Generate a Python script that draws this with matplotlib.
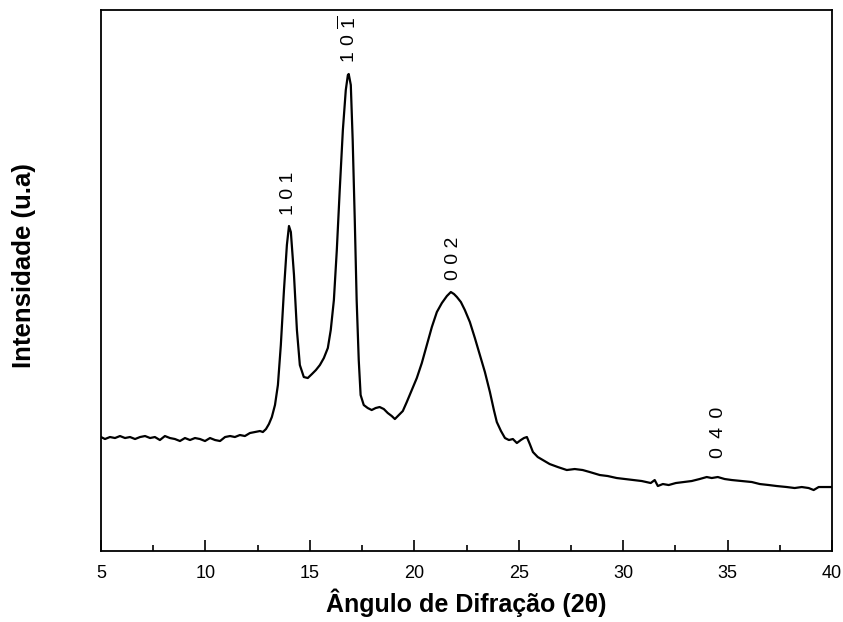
import matplotlib
matplotlib.use("Agg")
import matplotlib.pyplot as plt
import numpy as np

plt.rcParams['font.family'] = ['Liberation Sans', 'DejaVu Sans']
plt.rcParams['mathtext.fontset'] = 'custom'
plt.rcParams['mathtext.rm'] = 'Liberation Sans'

# XRD pattern: 2theta (deg) and intensity (arbitrary units)
two_theta = [5.00, 5.19, 5.43, 5.67, 5.91, 6.15, 6.39, 6.63, 6.87, 7.11,
             7.35, 7.58, 7.82, 8.06, 8.30, 8.54, 8.78, 9.02, 9.26, 9.50,
             9.74, 9.98, 10.22, 10.46, 10.70, 10.94, 11.18, 11.41, 11.65, 11.89,
             12.13, 12.37, 12.61, 12.75, 12.90, 13.04, 13.18, 13.33, 13.47, 13.61,
             13.76, 13.90, 14.00, 14.09, 14.24, 14.38, 14.52, 14.71, 14.90, 15.10,
             15.29, 15.48, 15.67, 15.86, 16.00, 16.15, 16.29, 16.43, 16.58, 16.72,
             16.82, 16.86, 16.96, 17.05, 17.15, 17.24, 17.34, 17.43, 17.58, 17.77,
             17.96, 18.15, 18.34, 18.54, 18.73, 18.92, 19.07, 19.26, 19.45, 19.64,
             19.88, 20.12, 20.36, 20.60, 20.84, 21.08, 21.32, 21.56, 21.75, 21.90,
             22.04, 22.23, 22.42, 22.66, 22.90, 23.14, 23.38, 23.62, 23.81, 23.95,
             24.15, 24.34, 24.53, 24.72, 24.91, 25.10, 25.25, 25.39, 25.53, 25.68,
             25.91, 26.15, 26.48, 26.87, 27.30, 27.68, 28.06, 28.40, 28.88, 29.26,
             29.69, 30.08, 30.46, 30.89, 31.32, 31.51, 31.66, 31.90, 32.18, 32.52,
             32.90, 33.28, 33.66, 34.00, 34.24, 34.53, 34.86, 35.20, 35.68, 36.16,
             36.54, 36.97, 37.35, 37.83, 38.21, 38.55, 38.88, 39.12, 39.36, 39.70,
             40.00]
intensity = [114, 112, 114, 113, 115, 113, 114, 112, 114, 115,
             113, 114, 111, 115, 113, 112, 110, 113, 111, 113,
             112, 110, 113, 111, 110, 114, 115, 114, 116, 115,
             118, 119, 120, 119, 122, 127, 134, 146, 166, 206,
             261, 306, 325, 319, 276, 221, 186, 174, 173, 177,
             181, 186, 193, 203, 221, 251, 301, 361, 421, 461,
             476, 477, 466, 411, 331, 251, 191, 156, 146, 143,
             141, 143, 144, 142, 138, 135, 132, 136, 140, 149,
             161, 173, 188, 206, 224, 239, 248, 255, 259, 257,
             254, 249, 241, 229, 213, 196, 179, 159, 141, 129,
             120, 113, 111, 112, 108, 111, 113, 114, 107, 99,
             94, 91, 87, 84, 81, 82, 81, 79, 76, 75,
             73, 72, 71, 70, 68, 71, 65, 67, 66, 68,
             69, 70, 72, 74, 73, 74, 72, 71, 70, 69,
             67, 66, 65, 64, 63, 64, 63, 61, 64, 64,
             64]

# peak labels (Miller indices) and their positions
peak_labels = ['1 0 1', r'$\mathregular{1\ 0\ \overline{1}}$', '0 0 2', '0 \u20094 \u20090']
peak_x = [14.0, 16.85, 21.9, 34.55]
peak_y = [336, 488, 271, 93]

fig = plt.figure(figsize=(8.43, 6.22), dpi=100)
ax = fig.add_axes([0.1198, 0.1141, 0.8672, 0.8698])

ax.plot(two_theta, intensity, color='black', linewidth=1.6)

for lab, px, py in zip(peak_labels, peak_x, peak_y):
    ax.text(px, py, lab, rotation=90, ha='center', va='bottom', fontsize=14)

ax.set_xlim(5, 40)
ax.set_ylim(0, 541)
ax.set_xticks(np.arange(5, 41, 5))
ax.set_xticks(np.arange(7.5, 40, 5), minor=True)
ax.set_yticks([])
ax.tick_params(axis='x', which='major', direction='in', length=8, width=1.2,
               labelsize=13, pad=10)
ax.tick_params(axis='x', which='minor', direction='in', length=4, width=1.2)
for sp in ax.spines.values():
    sp.set_linewidth(1.3)

ax.set_xlabel('Ângulo de Difração (2θ)', fontsize=18, fontweight='bold', labelpad=5)
ax.set_ylabel('Intensidade (u.a)', fontsize=18.5, fontweight='bold')
ax.yaxis.set_label_coords(-0.089, 0.527)

fig.savefig('out.png', dpi=100)
